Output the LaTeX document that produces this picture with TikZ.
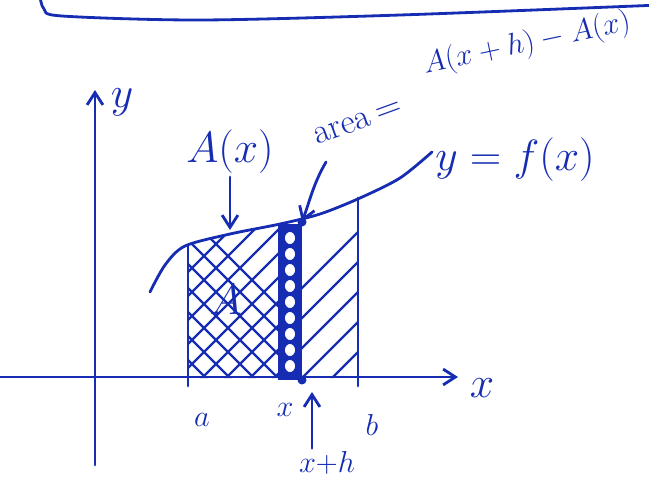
\documentclass[tikz,border=0pt]{standalone}
\usetikzlibrary{arrows.meta}
\definecolor{ink}{RGB}{22,44,178}
\begin{document}
\begin{tikzpicture}[x=0.02cm, y=-0.02cm, line width=1.6pt, draw=ink, line cap=round,
        lbl/.style={text=ink, font=\fontsize{24}{26}\selectfont, inner sep=1pt},
        small/.style={text=ink, font=\fontsize{19}{21}\selectfont, inner sep=1pt},
        pointer/.style={-{Straight Barb[length=7pt,width=9pt]}}]
        \useasboundingbox (0,0) rectangle (649,481);
        % frame edge at the top
        \draw plot[smooth] coordinates {(40,-4) (44,9) (62,16) (200,20) (400,15) (660,5)};
        \coordinate (O) at (95,377);
        \coordinate (xend) at (458,377);
        \coordinate (yend) at (95,90);
        \coordinate (yfoot) at (95,465);
        \coordinate (xleft) at (0,377);
        \coordinate (stripTop) at (302,222);
        \coordinate (stripBot) at (302,380);
        \coordinate (Atop) at (230,230);
        \coordinate (xhaxis) at (312,392);
        \coordinate (areaFoot) at (326,162);
        % hatching under the curve
        \begin{scope}
            \clip plot[smooth] coordinates {(150,292) (165,265) (185,246) (230,234) (280,224) (320,214) (360,198) (400,178) (432,152)} -- (432,378) -- (150,378) -- cycle;
            \begin{scope}
                \clip (188,150) rectangle (280,378);
                \foreach \s in {0,24,...,312}
                    \draw[line width=1.3pt] (60+\s,400) -- ++(-220,-220);
                \foreach \s in {0,24,...,312}
                    \draw[line width=1.3pt] (60+\s,400) -- ++(220,-220);
            \end{scope}
            \begin{scope}
                \clip (302,150) rectangle (358,378);
                \foreach \s in {0,30,...,240}
                    \draw[line width=1.3pt] (200+\s,390) -- ++(200,-200);
            \end{scope}
        \end{scope}
        % the strip of width h
        \fill[ink] (278,224) rectangle (302,380);
        \foreach \yy in {238,254,...,366}
            \filldraw[fill=white, draw=ink, line width=1pt] (290,\yy) ellipse (6 and 7);
        \draw (188,246) -- (188,386);
        \draw (358,198) -- (358,386);
        % axes
        \draw[pointer] (xleft) -- (xend);
        \draw[pointer] (yfoot) -- (yend);
        % graph of f
        \draw plot[smooth] coordinates {(150,292) (165,265) (185,246) (230,234) (280,224) (320,214) (360,198) (400,178) (432,152)};
        \fill[ink] (stripTop) circle (4.5);
        \fill[ink] (stripBot) circle (4.5);
        % labels
        \node[lbl] (ylab) at (122,102) {$y$};
        \node[lbl] (xlab) at (482,388) {$x$};
        \node[lbl] (flab) at (515,160) {$y=f(x)$};
        \node[lbl] (Alab) at (230,152) {$A(x)$};
        \node[lbl] (Ain) at (226,300) {$A$};
        \node[text=ink, font=\fontsize{20}{22}\selectfont, inner sep=0pt, rotate=20] (area) at (358,122) {area$\,=$};
        \node[text=ink, font=\fontsize{17}{19}\selectfont, inner sep=0pt, rotate=12] (diff) at (527,44) {$A(x+h)-A(x)$};
        \node[small] (alab) at (202,420) {$a$};
        \node[small] (xtick) at (285,410) {$x$};
        \node[small] (blab) at (372,425) {$b$};
        \node[small] (xh) at (327,463) {$x{+}h$};
        % pointers
        \draw[pointer] (Alab.south) -- (Atop);
        \draw[pointer] (areaFoot) to[out=-120, in=70] (stripTop);
        \draw[pointer] (xh.north -| xhaxis) -- (xhaxis);
    \end{tikzpicture}
\end{document}
